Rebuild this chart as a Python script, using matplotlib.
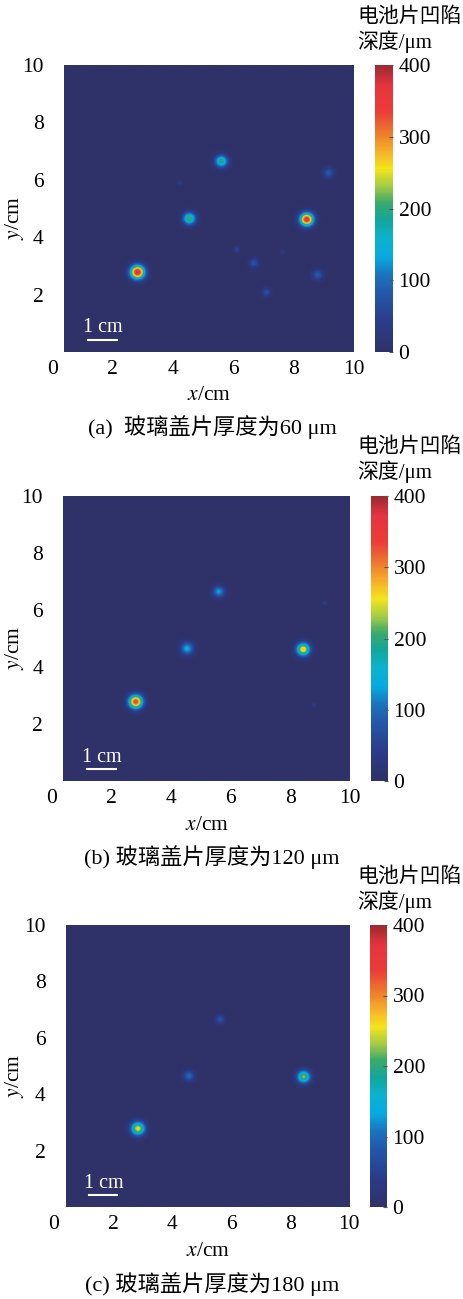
import numpy as np
import matplotlib
matplotlib.use("Agg")
import matplotlib.pyplot as plt
from matplotlib.colors import LinearSegmentedColormap

plt.rcParams['font.family'] = ['Liberation Serif', 'Noto Sans CJK SC']
plt.rcParams['mathtext.fontset'] = 'stix'

# ---- data ----
spot_x = [2.83, 4.55, 5.61, 8.44, 9.16, 8.80, 6.69, 7.11, 6.12, 7.64, 4.23]
spot_y = [2.78, 4.65, 6.65, 4.62, 6.25, 2.68, 3.10, 2.08, 3.57, 3.48, 5.90]
depth_60 = [380, 210, 195, 370, 85, 85, 80, 75, 60, 40, 35]
width_60 = [0.17, 0.15, 0.15, 0.16, 0.125, 0.125, 0.11, 0.10, 0.07, 0.06, 0.06]
depth_120 = [340, 140, 130, 275, 45, 45, 0, 0, 0, 0, 0]
width_120 = [0.17, 0.155, 0.14, 0.16, 0.05, 0.05, 0, 0, 0, 0, 0]
depth_180 = [255, 100, 80, 225, 0, 0, 0, 0, 0, 0, 0]
width_180 = [0.17, 0.13, 0.105, 0.16, 0, 0, 0, 0, 0, 0, 0]
captions = ["(a)  玻璃盖片厚度为60 μm", "(b) 玻璃盖片厚度为120 μm", "(c) 玻璃盖片厚度为180 μm"]
xticks = [0, 2, 4, 6, 8, 10]
yticks = [2, 4, 6, 8, 10]
cbar_ticks = [0, 100, 200, 300, 400]

panels = [(depth_60, width_60), (depth_120, width_120), (depth_180, width_180)]

cmap = LinearSegmentedColormap.from_list("washed_jet", [
    (0.00, "#2f3268"), (0.10, "#2b3b88"), (0.20, "#2456a8"),
    (0.27, "#1a74be"), (0.33, "#06aadf"), (0.40, "#0cb2cc"),
    (0.46, "#12a69a"), (0.52, "#3aaa6a"), (0.58, "#a8cc44"),
    (0.64, "#f4e41c"), (0.70, "#f6b02a"), (0.76, "#ee7e2c"),
    (0.84, "#ea3c38"), (0.93, "#e6343e"), (1.00, "#9c2a30")])

W, H = 464, 1299
fig = plt.figure(figsize=(W / 100, H / 100), dpi=100)

# pixel layouts: (axes_left, axes_right, top, bottom, cb_left, cb_right, caption_y, xlabel_y, cblabel_y)
layouts = [
    (52.2, 354, 65, 352, 375, 393, 427, 395, 17),
    (51.4, 350, 496, 781, 371, 388, 857, 825, 447),
    (53.9, 349.3, 925, 1207, 370, 387, 1284, 1252, 877),
]

gx = np.linspace(0.4, 10, 700)
gy = np.linspace(0, 10, 720)
GX, GY = np.meshgrid(gx, gy)

def fx(px):
    return px / W

def fy(py):
    return 1 - py / H

for i, ((depths, widths), lay) in enumerate(zip(panels, layouts)):
    al, ar, top, bot, cl, cr, capy, xly, cby = lay
    ax = fig.add_axes([fx(al), fy(bot), (ar - al) / W, (bot - top) / H])
    Z = np.zeros_like(GX)
    for x0, y0, d, s in zip(spot_x, spot_y, depths, widths):
        if d <= 0 or s <= 0:
            continue
        r2 = ((GX - x0) ** 2 + (GY - y0) ** 2) / (2 * s ** 2)
        Z = np.maximum(Z, d * np.exp(-r2))
    im = ax.imshow(Z, extent=[0.4, 10, 0, 10], origin='lower', cmap=cmap,
                   vmin=0, vmax=400, interpolation='bilinear', aspect='auto')
    ax.set_xlim(0, 10)
    ax.set_ylim(0, 10)
    for s in ax.spines.values():
        s.set_visible(False)
    ax.set_xticks(xticks)
    ax.set_yticks(yticks)
    ax.tick_params(length=0, labelsize=15.5, pad=6)
    # scale bar
    ax.plot([1.19, 2.15], [0.42, 0.42], color='white', lw=1.5)
    ax.text(1.68, 0.84, "1 cm", color='white', fontsize=14.5, ha='center', va='center')
    # labels
    fig.text(fx((al + ar) / 2 + 6), fy(xly), r"$x$/cm", fontsize=15.5, ha='center', va='center')
    fig.text(fx(15), fy((top + bot) / 2 + 10), r"$y$/cm", fontsize=15.5, ha='center', va='center', rotation=90)
    fig.text(fx(212), fy(capy), captions[i], fontsize=16, ha='center', va='center')
    # colorbar
    cax = fig.add_axes([fx(cl), fy(bot), (cr - cl) / W, (bot - top) / H])
    cb = fig.colorbar(im, cax=cax, ticks=cbar_ticks)
    cb.outline.set_visible(False)
    cax.tick_params(labelsize=15.5, length=3, direction='in', color='#555555', pad=4)
    fig.text(fx(357), fy(cby), "电池片凹陷", fontsize=15, ha='left', va='center')
    fig.text(fx(357), fy(cby + 25), "深度/μm", fontsize=15, ha='left', va='center')

fig.savefig("out.png", dpi=100)
